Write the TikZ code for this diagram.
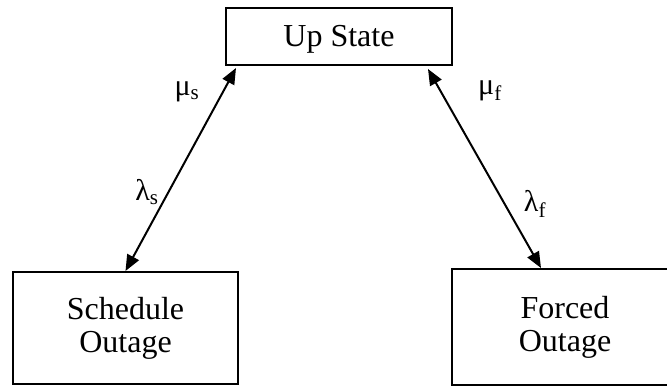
\documentclass[tikz,border=0pt]{standalone}
\usepackage{fontspec}
\setmainfont{Liberation Serif}
\usepackage{tikz}
\usetikzlibrary{arrows.meta}

\tikzset{
  statebox/.style={draw, line width=2pt, align=center, inner sep=0pt,
    font=\fontsize{32}{33}\selectfont},
  rate/.style={font=\fontsize{30}{33}\selectfont},
  link/.style={line width=2pt, {Triangle[length=16pt,width=13pt]}-{Triangle[length=16pt,width=13pt]}}
}

\begin{document}
\begin{tikzpicture}[x=1pt,y=-1pt]
                \useasboundingbox (0,0) rectangle (667,386);
                \clip (0,0) rectangle (667,386);
                % states
                \node[statebox, minimum width=226pt, minimum height=57pt, text depth=2pt] (up) at (339,36.5) {Up State};
                \node[statebox, minimum width=225pt, minimum height=112pt] (sched) at (125.5,328) {Schedule\\Outage};
                \node[statebox, minimum width=226pt, minimum height=116pt] (forced) at (565,327) {Forced\\Outage};

                % transitions
                \draw[link] (sched.north) -- ([xshift=11pt,yshift=-2pt]up.south west);
                \draw[link] ([xshift=-25pt,yshift=-3pt]up.south east) -- ([xshift=90pt]forced.north west);

                % rates
                \node[rate] (mus) at (187,92) {μ\textsubscript{s}};
                \node[rate] (lams) at (147,192) {λ\textsubscript{s}};
                \node[rate] (muf) at (490,91) {μ\textsubscript{f}};
                \node[rate] (lamf) at (535,204) {λ\textsubscript{f}};

            \end{tikzpicture}
\end{document}
